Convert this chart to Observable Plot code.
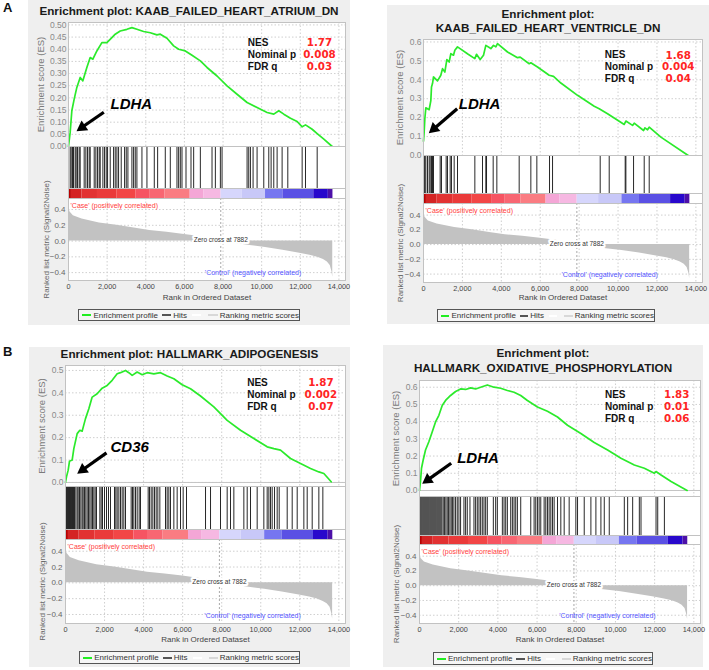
<!DOCTYPE html>
<html><head><meta charset="utf-8">
<script src="https://cdn.jsdelivr.net/npm/d3@7"></script>
<script src="https://cdn.jsdelivr.net/npm/@observablehq/plot@0.6"></script>
<style>
body{margin:0;background:#fff;font-family:"Liberation Sans",Arial,sans-serif;}
#fig{position:relative;width:709px;height:670px;overflow:hidden;background:#fff;}
.panel{position:absolute;background:#efefef;}
.title{position:absolute;left:0;right:0;text-align:center;font-weight:bold;font-size:11.7px;color:#1a1a1a;line-height:14px;white-space:nowrap;}
.legend{position:absolute;border:1px solid #555;background:#f6f6f6;font-size:8px;color:#333;display:flex;align-items:center;justify-content:center;white-space:nowrap;box-sizing:border-box;}
.sw{display:inline-block;width:10px;height:2px;margin:0 2px 0 3px;}
.letter{position:absolute;font-weight:bold;font-size:13px;line-height:13px;color:#111;}
</style></head><body><div id="fig"></div><script>
// ---------------- data ----------------
const rankMax = 14340;
const xTicks = [0, 2000, 4000, 6000, 8000, 10000, 12000, 14000];
const metricTicks = [-0.4, -0.2, 0.0, 0.2, 0.4];

const titles = [
  ["Enrichment plot: KAAB_FAILED_HEART_ATRIUM_DN"],
  ["Enrichment plot:", "KAAB_FAILED_HEART_VENTRICLE_DN"],
  ["Enrichment plot: HALLMARK_ADIPOGENESIS"],
  ["Enrichment plot:", "HALLMARK_OXIDATIVE_PHOSPHORYLATION"]
];
const panelLetters = ["A", "B"];
const geneLabels = ["LDHA", "LDHA", "CD36", "LDHA"];
const statLabels = ["NES", "Nominal p", "FDR q"];
const nesValues = ["1.77", "1.68", "1.87", "1.83"];
const nominalP = ["0.008", "0.004", "0.002", "0.01"];
const fdrQ = ["0.03", "0.04", "0.07", "0.06"];

const esTicksAtrium = [0, 0.05, 0.10, 0.15, 0.20, 0.25, 0.30, 0.35, 0.40, 0.45, 0.50];
const esTicksVentricle = [0, 0.1, 0.2, 0.3, 0.4, 0.5, 0.6];
const esTicksAdipo = [0, 0.1, 0.2, 0.3, 0.4, 0.5];
const esTicksOxphos = [0, 0.1, 0.2, 0.3, 0.4, 0.5, 0.6];

const esRankAtrium = [0,86,173,294,432,605,743,950,1123,1261,1469,1728,1987,2246,2419,2678,3024,3283,3542,3888,4234,4579,4752,5098,5443,5702,6048,6394,6826,7171,7690,8208,8726,9245,9763,10282,10627,10886,11146,11491,11837,12096,12269,12614,12874,13219,13651];
const esValueAtrium = [0,0.058,0.147,0.195,0.243,0.284,0.27,0.325,0.366,0.359,0.393,0.427,0.427,0.448,0.462,0.475,0.482,0.489,0.482,0.473,0.468,0.459,0.462,0.445,0.414,0.40,0.393,0.375,0.352,0.325,0.29,0.249,0.215,0.181,0.16,0.14,0.133,0.147,0.133,0.116,0.103,0.081,0.089,0.071,0.053,0.030,0];
const hitsAtrium = [86,138,207,259,346,397,467,553,605,812,899,985,1071,1123,1331,1417,1503,1590,1642,1780,1866,1953,2022,2160,2333,2419,2506,2592,2730,2903,2989,3076,3283,3370,3456,3542,3802,4061,4441,4614,5011,5270,5616,5702,5789,5875,6083,6342,6480,6826,7430,7603,7862,7949,9245,9331,9418,9556,9763,10109,10368,10489,10627,10800,11059,11353,12096,12269,12874];

const esRankVentricle = [0,34,69,120,291,377,411,463,514,720,891,977,1097,1200,1319,1405,1542,1611,1748,2296,2639,2724,2913,3084,3204,3461,3599,3719,3804,4318,4832,4969,5432,5518,5860,6460,6683,7060,7917,8774,9031,9460,10317,10402,10745,10830,11310,11378,11515,11601,12201,13606];
const esValueVentricle = [0.075,0.124,0.194,0.252,0.242,0.29,0.362,0.38,0.415,0.394,0.424,0.459,0.441,0.507,0.494,0.538,0.53,0.556,0.574,0.535,0.512,0.535,0.507,0.53,0.582,0.565,0.582,0.574,0.591,0.547,0.517,0.52,0.485,0.49,0.468,0.424,0.418,0.383,0.318,0.26,0.247,0.221,0.164,0.182,0.159,0.171,0.132,0.146,0.136,0.15,0.097,0];
const hitsVentricle = [34,69,120,206,291,343,411,463,514,857,925,1165,1234,1371,1439,1577,1748,2639,3033,3204,3239,3581,3770,4918,5518,5826,6477,6632,9082,9545,10367,10402,10796,11344,11601];

const esRankAdipo = [0,51,137,205,341,427,598,734,854,1024,1195,1366,1622,1878,2134,2390,2646,2817,3073,3244,3415,3671,3927,4183,4524,4866,5207,5549,5976,6402,6915,7597,8280,8963,9646,10329,10671,11012,11524,12036,12549,12976,13232,13607];
const esValueAdipo = [0,0.025,0.055,0.095,0.1,0.151,0.218,0.233,0.229,0.285,0.329,0.381,0.396,0.421,0.433,0.456,0.485,0.49,0.5,0.49,0.478,0.493,0.481,0.49,0.485,0.49,0.475,0.463,0.436,0.418,0.386,0.337,0.277,0.233,0.196,0.159,0.151,0.144,0.107,0.085,0.062,0.047,0.04,0.003];
const hitsAdipo = [51,102,154,205,256,307,359,410,461,529,598,649,717,786,854,905,973,1041,1110,1178,1246,1315,1383,1451,1520,1588,1759,1827,1895,1998,2100,2202,2305,2510,2578,2646,2732,2817,2902,2988,3073,3363,3432,3500,3585,3671,3773,3841,4234,4302,4388,4473,4558,4644,4729,4832,5122,5207,5293,5378,5549,5719,5890,6027,6197,7171,7427,7939,8280,8451,8622,9134,9305,9475,9817,10158,10329,10415,10500,10585,10705,10841,10944,11354,11610,11866,12207,12378,12634,12975,13180];

const esRankOxphos = [0,51,102,188,307,477,648,818,989,1159,1330,1586,1841,2097,2353,2609,2864,3120,3461,3802,4143,4484,4825,5166,5507,6019,6530,7042,7553,8235,8917,9599,10281,10963,11475,11986,12071,12327,12839,13657];
const esValueOxphos = [0,0.052,0.129,0.177,0.235,0.283,0.34,0.398,0.437,0.494,0.523,0.552,0.575,0.59,0.587,0.596,0.59,0.6,0.613,0.6,0.594,0.581,0.571,0.552,0.523,0.485,0.46,0.427,0.379,0.331,0.279,0.235,0.187,0.148,0.129,0.1,0.11,0.09,0.052,0];
const hitsOxphos = [17,68,119,171,222,273,324,375,426,477,529,580,631,682,733,784,835,887,938,989,1040,1091,1142,1211,1279,1347,1415,1483,1552,1620,1688,1756,1841,1927,2012,2097,2268,2353,2438,2575,2779,2864,2950,3035,3120,3205,3291,3376,3461,3768,3887,3973,4228,4314,4399,4484,4655,4740,4825,4910,4996,5166,5678,5848,5933,6019,6104,6189,6360,6445,6530,6615,6701,6786,6871,7042,7212,7383,7638,7979,8065,8406,8747,9002,9258,9429,9684,10452,10622,10878,11219,11304,12071,12157,12498];

// ranked list metric (Signal2Noise), shared by all panels
const metricRank = [0,20,80,250,700,1600,2500,3400,4200,5100,6000,6800,7400,7882,8400,9400,10200,11100,11900,12500,12900,13200,13400,13550,13640,13680];
const metricValue = [0.46,0.42,0.37,0.32,0.28,0.23,0.2,0.165,0.135,0.112,0.085,0.058,0.03,0,-0.02,-0.055,-0.08,-0.115,-0.15,-0.18,-0.205,-0.235,-0.265,-0.31,-0.39,-0.46];
const zeroCross = 7882;

// colour bar bands
const bandStart = [0,150,700,1500,2500,3500,4200,5000,6300,7000,7900,9000,10200,11100,12700,13450];
const bandEnd   = [150,700,1500,2500,3500,4200,5000,6300,7000,7900,9000,10200,11100,12700,13450,13690];
const bandColor = ["#b80000","#d42424","#e23232","#ea3a3a","#f24646","#f65462","#f86672","#fa7c82","#f4a6d6","#f6b8e2","#d6d6fc","#c8c8f8","#7676f0","#5a50e4","#2808cc","#4c10a8"];

// annotation anchors (data units)
const geneX = [2174, 1814, 2305, 1924];
const geneY = [0.1735, 0.273, 0.156, 0.189];
const arrowX1 = [1828, 1732, 2100, 1617];
const arrowY1 = [0.141, 0.247, 0.132, 0.158];
const arrowX2 = [414, 272, 599, 138];
const arrowY2 = [0.063, 0.118, 0.039, 0.039];
const statX = [9283, 9322, 9305, 9463];
const statY = [0.425, 0.53, 0.444, 0.556];
const valueX = [12990, 13092, 13078, 13128];

// ---------------- layout (pixels) ----------------
const layout = [
  {box:[28,0,322,325], plotX:[68,345], es:[22,146], hits:[146,188], bar:[188,198], metric:[198,280], esDomain:[0,0.51], mDomain:[-0.50,0.54], titleY:[11], legend:[78,309,222,12], esLabelDx:-27.5, mLabelDx:-22, xLabelDy:19, esFmt:".2f", esTicks: esTicksAtrium},
  {box:[387,5,322,319], plotX:[423,702], es:[39,155], hits:[155,193], bar:[193,203], metric:[203,282], esDomain:[0,0.613], mDomain:[-0.514,0.557], titleY:[14,28], legend:[437,309,218,13], esLabelDx:-23.5, mLabelDx:-23, xLabelDy:17, esFmt:".1f", esTicks: esTicksVentricle},
  {box:[29,347,321,320], plotX:[65,345], es:[365,486], hits:[486,529], bar:[529,539], metric:[539,623], esDomain:[-0.018,0.522], mDomain:[-0.514,0.548], titleY:[354], legend:[79,651,221,13], esLabelDx:-23.7, mLabelDx:-22.7, xLabelDy:18, esFmt:".1f", esTicks: esTicksAdipo},
  {box:[383,345,320,322], plotX:[419,700], es:[380,496], hits:[496,535], bar:[535,544], metric:[544,623], esDomain:[-0.035,0.639], mDomain:[-0.512,0.558], titleY:[353,368], legend:[433,652,220,13], esLabelDx:-23.5, mLabelDx:-23.5, xLabelDy:18, esFmt:".1f", esTicks: esTicksOxphos}
];
const letterPos = [[3,1],[3,345]];

const esRanks = [esRankAtrium, esRankVentricle, esRankAdipo, esRankOxphos];
const esValues = [esValueAtrium, esValueVentricle, esValueAdipo, esValueOxphos];
const hitLists = [hitsAtrium, hitsVentricle, hitsAdipo, hitsOxphos];

const metric = metricRank.map((r, k) => ({rank: r, value: metricValue[k]}));
const bands = bandStart.map((s, k) => ({start: s, end: bandEnd[k], color: bandColor[k]}));

const fig = document.getElementById("fig");
const FONT = "Liberation Sans, Arial, sans-serif";
const GRID = {stroke: "#cfcfcf", strokeOpacity: 1, strokeDasharray: "1.5,2"};

function makePanel(i) {
  const L = layout[i];
  const [bx, by, bw, bh] = L.box;
  const panel = document.createElement("div");
  panel.className = "panel";
  Object.assign(panel.style, {left: bx + "px", top: by + "px", width: bw + "px", height: bh + "px"});
  fig.appendChild(panel);

  titles[i].forEach((t, k) => {
    const d = document.createElement("div");
    d.className = "title";
    d.textContent = t;
    d.style.top = (L.titleY[k] - by - 7) + "px";
    panel.appendChild(d);
  });

  const ml = L.plotX[0] - bx, mr = bx + bw - L.plotX[1];
  const base = {width: bw, marginLeft: ml, marginRight: mr, marginTop: 0, marginBottom: 0,
    style: {background: "transparent", overflow: "visible", fontFamily: FONT}};
  const xs = {domain: [0, rankMax], axis: null};
  const place = (svg, top) => {
    svg.style.position = "absolute"; svg.style.left = "0px"; svg.style.top = (top - by) + "px";
    panel.appendChild(svg);
  };

  // ---- enrichment score plot ----
  const es = esRanks[i].map((r, k) => ({rank: r, es: esValues[i][k]}));
  const sx = (L.plotX[1] - L.plotX[0]) / rankMax;
  const sy = (L.es[1] - L.es[0]) / (L.esDomain[1] - L.esDomain[0]);
  const dxp = (arrowX2[i] - arrowX1[i]) * sx, dyp = -(arrowY2[i] - arrowY1[i]) * sy;
  const len = Math.hypot(dxp, dyp), ux = dxp / len, uy = dyp / len;
  const s = 3.4;
  const cx = arrowX2[i] - 2 * s * ux / sx, cy = arrowY2[i] + 2 * s * uy / sy;
  const rot = Math.atan2(ux, -uy) * 180 / Math.PI;
  const rHead = Math.sqrt(3 * Math.sqrt(3) * s * s / Math.PI);
  const statMarks = [];
  const vals = [nesValues[i], nominalP[i], fdrQ[i]];
  statLabels.forEach((lab, k) => {
    statMarks.push(Plot.text([{x: statX[i], y: statY[i], t: lab}], {x: "x", y: "y", text: "t", dy: k * 11.8, textAnchor: "start", fontWeight: "bold", fontSize: 10, fill: "#111", fontFamily: FONT}));
    statMarks.push(Plot.text([{x: valueX[i], y: statY[i], t: vals[k]}], {x: "x", y: "y", text: "t", dy: k * 11.8, textAnchor: "middle", fontWeight: "bold", fontSize: 10.3, fill: "#ff2424", fontFamily: "DejaVu Sans"}));
  });
  const esPlot = Plot.plot({...base, height: L.es[1] - L.es[0], x: xs, y: {domain: L.esDomain, axis: null},
    marks: [
      Plot.frame({fill: "white", stroke: "none"}),
      Plot.gridX({...GRID, ticks: xTicks}),
      Plot.gridY({...GRID, ticks: L.esTicks}),
      Plot.ruleY([0], {stroke: "#c4c4c4"}),
      Plot.line(es, {x: "rank", y: "es", stroke: "#2bea2b", strokeWidth: 1.7}),
      Plot.link([{x1: arrowX1[i], y1: arrowY1[i], x2: cx, y2: cy}], {x1: "x1", y1: "y1", x2: "x2", y2: "y2", stroke: "#000", strokeWidth: 3.2}),
      Plot.dot([{x: cx, y: cy}], {x: "x", y: "y", symbol: "triangle", r: rHead, rotate: rot, fill: "#000", stroke: "none"}),
      Plot.text([{x: geneX[i], y: geneY[i], t: geneLabels[i]}], {x: "x", y: "y", text: "t", textAnchor: "start", fontWeight: "bold", fontStyle: "italic", fontSize: 15, fill: "#000", fontFamily: FONT}),
      ...statMarks,
      Plot.axisY({ticks: L.esTicks, tickFormat: d3.format(L.esFmt), tickSize: 0, tickPadding: 2, fontSize: 8.5, fill: "#8a8a8a", label: null}),
      Plot.text(["Enrichment score (ES)"], {frameAnchor: "left", textAnchor: "middle", lineAnchor: "middle", rotate: -90, dx: L.esLabelDx, fill: "#7a7a7a", fontSize: 9.5, fontFamily: FONT}),
      Plot.frame({stroke: "#c2c2c2"})
    ]});
  place(esPlot, L.es[0]);

  // ---- hits ----
  const hitsPlot = Plot.plot({...base, height: L.hits[1] - L.hits[0], x: xs,
    marks: [
      Plot.frame({fill: "white", stroke: "none"}),
      Plot.ruleX(hitLists[i], {stroke: "#111", strokeWidth: 1, strokeOpacity: 0.9}),
      Plot.frame({stroke: "#c2c2c2"})
    ]});
  place(hitsPlot, L.hits[0]);

  // ---- colour bar ----
  const barPlot = Plot.plot({...base, height: L.bar[1] - L.bar[0], x: xs, color: {type: "identity"},
    marks: [
      Plot.frame({fill: "white", stroke: "none"}),
      Plot.rect(bands, {x1: "start", x2: "end", fill: "color"}),
      Plot.frame({stroke: "#c2c2c2"})
    ]});
  place(barPlot, L.bar[0]);

  // ---- ranked list metric ----
  const mh = L.metric[1] - L.metric[0];
  const metricPlot = Plot.plot({...base, height: mh + 26, marginBottom: 26, x: xs, y: {domain: L.mDomain, axis: null},
    marks: [
      Plot.frame({fill: "white", stroke: "none"}),
      Plot.gridX({...GRID, ticks: xTicks}),
      Plot.gridY({...GRID, ticks: metricTicks}),
      Plot.areaY(metric, {x: "rank", y: "value", fill: "#c2c2c2"}),
      Plot.ruleX([zeroCross], {stroke: "#a8a8a8", strokeDasharray: "2,2"}),
      Plot.text([{x: zeroCross, y: 0, t: "Zero cross at " + zeroCross}], {x: "x", y: "y", text: "t", dy: -1, fontSize: 6.5, fill: "#333", stroke: "white", strokeWidth: 4, fontFamily: FONT}),
      Plot.text(["'Case' (positively correlated)"], {frameAnchor: "top-left", dx: 2, dy: 4.5, textAnchor: "start", fontSize: 7, fill: "#ff3c3c", fontFamily: FONT}),
      Plot.text([{x: 12050, t: "'Control' (negatively correlated)"}], {x: "x", text: "t", frameAnchor: "bottom", dy: -5.5, textAnchor: "end", fontSize: 7, fill: "#5656ff", fontFamily: FONT}),
      Plot.axisY({ticks: metricTicks, tickFormat: d3.format(".1f"), tickSize: 0, tickPadding: 3, fontSize: 8, fill: "#666", label: null}),
      Plot.axisX({ticks: xTicks, tickFormat: d3.format(","), tickSize: 0, tickPadding: 3.5, fontSize: 7.3, fill: "#444", label: null}),
      Plot.text(["Rank in Ordered Dataset"], {frameAnchor: "bottom", dy: L.xLabelDy, fontSize: 8, fill: "#444", fontFamily: FONT}),
      Plot.text(["Ranked list metric (Signal2Noise)"], {frameAnchor: "left", textAnchor: "middle", lineAnchor: "middle", rotate: -90, dx: L.mLabelDx, fontSize: 8, fill: "#666", fontFamily: FONT}),
      Plot.frame({stroke: "#c2c2c2"})
    ]});
  place(metricPlot, L.metric[0]);

  // ---- legend ----
  const [lx, ly, lw, lh] = L.legend;
  const lg = document.createElement("div");
  lg.className = "legend";
  Object.assign(lg.style, {left: (lx - bx) + "px", top: (ly - by) + "px", width: lw + "px", height: lh + "px"});
  lg.innerHTML = '<span class="sw" style="background:#22ee22"></span>Enrichment profile' +
    '<span class="sw" style="background:#555;margin-left:4px"></span>Hits' +
    '<span class="sw" style="background:#fff;margin-left:5px"></span>' +
    '<span class="sw" style="background:#d8d8d8;margin-left:5px"></span>Ranking metric scores';
  panel.appendChild(lg);
}

for (let i = 0; i < 4; i++) makePanel(i);
panelLetters.forEach((t, k) => {
  const d = document.createElement("div");
  d.className = "letter"; d.textContent = t;
  d.style.left = letterPos[k][0] + "px"; d.style.top = letterPos[k][1] + "px";
  fig.appendChild(d);
});
</script></body></html>
